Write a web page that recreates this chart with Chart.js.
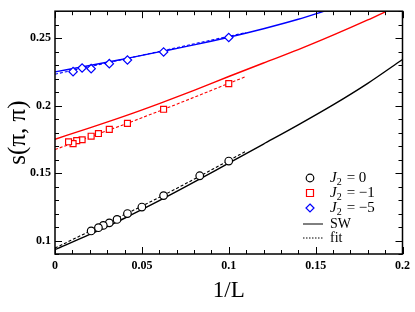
<!DOCTYPE html>
<html>
<head>
<meta charset="utf-8">
<script src="https://cdn.jsdelivr.net/npm/chart.js@4.4.1/dist/chart.umd.min.js"></script>
<style>
html, body { margin: 0; padding: 0; background: #fff; }
#wrap { width: 415px; height: 312px; }
</style>
</head>
<body>
<div id="wrap"><canvas id="sChart"></canvas></div>
<script>
// QMC data, 1/L vs s(pi,pi)
var invL0 = [0.1, 0.0833, 0.0625, 0.05, 0.0417, 0.0357, 0.03125, 0.0278, 0.025, 0.0208];
var s0    = [0.1589, 0.148, 0.1333, 0.1248, 0.12, 0.1156, 0.1131, 0.1112, 0.1095, 0.1071];
var invL1 = [0.1, 0.0625, 0.0417, 0.03125, 0.025, 0.0208, 0.0156, 0.0125, 0.0104, 0.0078];
var s1    = [0.2163, 0.1973, 0.1868, 0.1824, 0.1793, 0.1773, 0.1747, 0.174, 0.1718, 0.1732];
var invL5 = [0.1, 0.0625, 0.0417, 0.03125, 0.0208, 0.0156, 0.0104];
var s5    = [0.2505, 0.2398, 0.2338, 0.2311, 0.2274, 0.2279, 0.2252];

// spin-wave curves
var swX0 = [0, 0.02, 0.04, 0.06, 0.08, 0.1, 0.12, 0.14, 0.16, 0.18, 0.2];
var swY0 = [0.0932, 0.1045, 0.1165, 0.1295, 0.1432, 0.1574, 0.1715, 0.1857, 0.2005, 0.2165, 0.2342];
var swX1 = [0, 0.02, 0.04, 0.06, 0.08, 0.1, 0.12, 0.14, 0.16, 0.18, 0.19];
var swY1 = [0.1751, 0.1835, 0.1922, 0.2015, 0.2113, 0.2216, 0.2316, 0.2415, 0.2522, 0.2635, 0.2695];
var swX5 = [0, 0.02, 0.04, 0.06, 0.08, 0.1, 0.12, 0.14, 0.155];
var swY5 = [0.225, 0.2297, 0.2347, 0.2398, 0.245, 0.2507, 0.257, 0.264, 0.27];

// fits
var fitX0 = [0, 0.025, 0.05, 0.075, 0.1, 0.11];
var fitY0 = [0.0944, 0.11, 0.1255, 0.142, 0.1593, 0.1662];
var fitX1 = [0, 0.05, 0.11];
var fitY1 = [0.1674, 0.191, 0.2216];
var fitX5 = [0, 0.11];
var fitY5 = [0.2233, 0.2542];

var xTicks = [0, 0.05, 0.1, 0.15, 0.2];
var xTickLabels = ['0', '0.05', '0.1', '0.15', '0.2'];
var yTicks = [0.1, 0.15, 0.2, 0.25];
var yTickLabels = ['0.1', '0.15', '0.2', '0.25'];

var legendLabels = ['0', '\u22121', '\u22125'];

function pts(xs, ys) {
    var out = [];
    for (var i = 0; i < xs.length; i++) out.push({x: xs[i], y: ys[i]});
    return out;
}

var RED = '#ff0000', BLUE = '#0000ff', BLACK = '#000000';

var frame = {
    id: 'frame',
    afterDraw: function(chart) {
        var c = chart.ctx, a = chart.chartArea, xs = chart.scales.x, ys = chart.scales.y;
        c.save();
        c.strokeStyle = '#000';
        c.lineWidth = 1;
        c.beginPath();
        for (var i = 0; i <= 20; i++) {
            var px = Math.round(xs.getPixelForValue(i * 0.01)) + 0.5;
            var len = (i % 5 === 0) ? 7 : 4;
            c.moveTo(px, a.bottom); c.lineTo(px, a.bottom - len);
            c.moveTo(px, a.top); c.lineTo(px, a.top + len);
        }
        for (var j = 9; j <= 27; j++) {
            var py = Math.round(ys.getPixelForValue(j * 0.01)) + 0.5;
            var l2 = (j % 5 === 0) ? 7 : 4;
            c.moveTo(a.left, py); c.lineTo(a.left + l2, py);
            c.moveTo(a.right, py); c.lineTo(a.right - l2, py);
        }
        c.stroke();
        c.lineWidth = 1.5;
        c.strokeRect(a.left, a.top, a.right - a.left, a.bottom - a.top);

        // legend
        var lx = 310, ly = [178, 193, 208, 224, 238];
        var cols = [BLACK, RED, BLUE];
        c.lineWidth = 1.2;
        for (var k = 0; k < 3; k++) {
            c.strokeStyle = cols[k];
            c.fillStyle = '#fff';
            c.beginPath();
            if (k === 0) c.arc(lx, ly[k], 3.8, 0, Math.PI * 2);
            else if (k === 1) c.rect(lx - 3.5, ly[k] - 3.5, 7, 7);
            else { c.moveTo(lx, ly[k] - 4); c.lineTo(lx + 4, ly[k]); c.lineTo(lx, ly[k] + 4); c.lineTo(lx - 4, ly[k]); c.closePath(); }
            c.fill(); c.stroke();
            c.fillStyle = '#000';
            c.textBaseline = 'middle';
            c.font = 'italic 15px "Liberation Serif"';
            c.fillText('J', 330, ly[k]);
            var w = c.measureText('J').width;
            c.font = '10px "Liberation Serif"';
            c.fillText('2', 330 + w, ly[k] + 4);
            c.font = '15px "Liberation Serif"';
            c.fillText('= ' + legendLabels[k], 330 + w + 10, ly[k]);
        }
        c.strokeStyle = '#000';
        c.lineWidth = 1;
        c.beginPath(); c.moveTo(303, ly[3]); c.lineTo(323, ly[3]); c.stroke();
        c.setLineDash([1.5, 1.5]);
        c.beginPath(); c.moveTo(303, ly[4]); c.lineTo(323, ly[4]); c.stroke();
        c.setLineDash([]);
        c.font = '14px "Liberation Serif"';
        c.fillText('SW', 330, ly[3]);
        c.fillText('fit', 330, ly[4]);
        c.restore();
    }
};

var ctx = document.getElementById('sChart').getContext('2d');
var sChart = new Chart(ctx, {
    type: 'scatter',
    data: {
        datasets: [
            {data: pts(invL0, s0), borderColor: BLACK, backgroundColor: '#fff', pointStyle: 'circle', pointRadius: 3.8, borderWidth: 1.2},
            {data: pts(invL1, s1), borderColor: RED, backgroundColor: '#fff', pointStyle: 'rect', pointRadius: 4.2, borderWidth: 1.2},
            {data: pts(invL5, s5), borderColor: BLUE, backgroundColor: '#fff', pointStyle: 'rectRot', pointRadius: 4.2, borderWidth: 1.2},
            {type: 'line', data: pts(swX0, swY0), borderColor: BLACK, borderWidth: 1.4, pointRadius: 0, cubicInterpolationMode: 'monotone'},
            {type: 'line', data: pts(swX1, swY1), borderColor: RED, borderWidth: 1.4, pointRadius: 0, cubicInterpolationMode: 'monotone'},
            {type: 'line', data: pts(swX5, swY5), borderColor: BLUE, borderWidth: 1.4, pointRadius: 0, cubicInterpolationMode: 'monotone'},
            {type: 'line', data: pts(fitX0, fitY0), borderColor: BLACK, borderWidth: 1.1, borderDash: [3, 2], pointRadius: 0, cubicInterpolationMode: 'monotone'},
            {type: 'line', data: pts(fitX1, fitY1), borderColor: RED, borderWidth: 1.1, borderDash: [3, 2], pointRadius: 0, cubicInterpolationMode: 'monotone'},
            {type: 'line', data: pts(fitX5, fitY5), borderColor: BLUE, borderWidth: 1.1, borderDash: [3, 2], pointRadius: 0}
        ]
    },
    options: {
        responsive: true,
        maintainAspectRatio: false,
        animation: false,
        layout: {padding: {top: 8, right: 9, left: 0, bottom: 0}},
        plugins: {legend: {display: false}, tooltip: {enabled: false}},
        scales: {
            x: {
                type: 'linear', min: 0, max: 0.2,
                grid: {display: false, drawTicks: false},
                border: {display: false},
                afterBuildTicks: function(s) { s.ticks = xTicks.map(function(v) { return {value: v}; }); },
                afterFit: function(s) { s.height = 58; },
                ticks: {
                    padding: 5, color: '#000', maxRotation: 0,
                    font: {family: '"Liberation Serif"', size: 12, weight: 'bold'},
                    callback: function(v) { return xTickLabels[xTicks.indexOf(v)]; }
                },
                title: {display: true, text: '1/L', color: '#000', padding: {top: 0, bottom: 7},
                        font: {family: '"Liberation Serif"', size: 23}}
            },
            y: {
                type: 'linear', min: 0.09, max: 0.27,
                grid: {display: false, drawTicks: false},
                border: {display: false},
                afterBuildTicks: function(s) { s.ticks = yTicks.map(function(v) { return {value: v}; }); },
                afterFit: function(s) { s.width = 55; },
                ticks: {
                    padding: 4, color: '#000',
                    font: {family: '"Liberation Serif"', size: 12, weight: 'bold'},
                    callback: function(v) { return yTickLabels[yTicks.indexOf(v)]; }
                },
                title: {display: true, text: 's(\u03c0, \u03c0)', color: '#000', padding: {top: 3, bottom: 0},
                        font: {family: '"Liberation Serif"', size: 25}}
            }
        }
    },
    plugins: [frame]
});
</script>
</body>
</html>
